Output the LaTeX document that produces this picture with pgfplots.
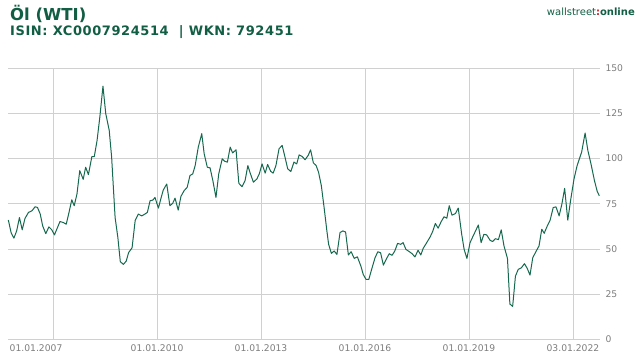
\documentclass[border=0pt]{standalone}
\usepackage{pgfplots}
\pgfplotsset{compat=1.18}
\usepackage{fontspec}
\setmainfont{DejaVu Sans}
\newfontfamily\isinfont[LetterSpace=4.5]{DejaVu Sans}
\definecolor{wogreen}{RGB}{18,94,68}
\definecolor{lineg}{RGB}{22,104,78}
\definecolor{gridc}{RGB}{208,208,208}
\definecolor{tickc}{RGB}{125,125,125}
\definecolor{wored}{RGB}{200,30,40}
\begin{document}
\begin{tikzpicture}
\useasboundingbox (0,0) rectangle (644pt,360pt);
\begin{axis}[
  at={(8pt,20.5pt)}, anchor=south west,
  scale only axis, width=592pt, height=271.5pt,
  xmin=2005.70, xmax=2022.78, ymin=0, ymax=150,
  axis line style={draw=none},
  major tick length=0pt,
  grid=major,
  major grid style={gridc, line width=0.7pt},
  xtick={2007,2010,2013,2016,2019,2022},
  xticklabels={\hspace*{-34pt}01.01.2007,01.01.2010,01.01.2013,01.01.2016,01.01.2019,03.01.2022},
  ytick={0,25,50,75,100,125,150},
  yticklabel pos=right,
  /pgf/number format/assume math mode=true,
  ticklabel style={font=\fontsize{9.2}{10}\selectfont, text=tickc},
  yticklabel style={anchor=west, xshift=2pt},
  xticklabel style={yshift=-1.5pt},
  clip=false,
]
\addplot[lineg, line width=1pt, line join=round] table {
2005.71 66
2005.79 59
2005.87 56
2005.95 60
2006.03 67.4
2006.11 60.6
2006.19 66.9
2006.29 70.2
2006.39 71.1
2006.48 73.3
2006.55 73
2006.63 69.3
2006.70 62.8
2006.79 58.5
2006.88 62.2
2006.96 60.7
2007.04 57.8
2007.12 61.5
2007.20 65.2
2007.30 64.6
2007.38 63.7
2007.46 70.2
2007.54 77.2
2007.61 73.9
2007.69 80.4
2007.77 93.3
2007.87 88.5
2007.94 95.2
2008.02 91.1
2008.12 101.1
2008.19 101.1
2008.27 110
2008.35 123
2008.44 140
2008.52 124.8
2008.62 115.6
2008.69 100.7
2008.79 67.4
2008.87 56.3
2008.94 43
2009.03 41.5
2009.11 43.3
2009.18 48
2009.28 50.7
2009.37 65.9
2009.46 69.3
2009.56 68.3
2009.65 69.3
2009.72 70.2
2009.80 76.7
2009.88 77
2009.94 78.5
2010.04 72.6
2010.12 78.5
2010.18 82.6
2010.28 85.9
2010.37 73.9
2010.45 75.2
2010.52 78.1
2010.61 71.5
2010.69 79.1
2010.78 82.2
2010.87 84.1
2010.95 90.6
2011.03 91.5
2011.10 96.1
2011.19 106.3
2011.29 113.7
2011.36 102.6
2011.45 95.2
2011.53 94.8
2011.61 87.8
2011.70 78.5
2011.78 91.5
2011.88 99.8
2011.95 98.5
2012.03 98
2012.11 106.3
2012.18 103.1
2012.28 104.8
2012.36 86.3
2012.45 84.4
2012.54 87.8
2012.62 96.1
2012.68 92.4
2012.78 86.9
2012.88 88.7
2012.95 91.5
2013.03 97
2013.12 91.9
2013.19 96.7
2013.28 92.9
2013.35 91.9
2013.43 96.1
2013.52 105.4
2013.61 107.2
2013.68 101.7
2013.77 94.3
2013.86 92.8
2013.95 98
2014.03 97
2014.10 102
2014.19 101.1
2014.27 99.3
2014.36 101.7
2014.43 104.8
2014.51 97.6
2014.59 96.1
2014.66 92.4
2014.74 85
2014.82 72.9
2014.90 60
2014.95 52.6
2015.03 47.6
2015.11 48.9
2015.19 47
2015.28 59.1
2015.36 60
2015.44 59.4
2015.52 46.7
2015.60 48.5
2015.69 44.8
2015.78 45.7
2015.88 40.6
2015.95 35.9
2016.03 33.2
2016.11 33.2
2016.19 38.7
2016.29 45.2
2016.37 48.5
2016.45 47.9
2016.53 41.1
2016.61 44.3
2016.70 47.4
2016.78 46.5
2016.86 48.9
2016.94 53.1
2017.03 52.6
2017.10 53.5
2017.18 49.8
2017.28 48.5
2017.36 47.4
2017.44 45.6
2017.53 49.3
2017.61 46.7
2017.68 50.4
2017.78 53.5
2017.88 56.7
2017.95 59.6
2018.03 64.1
2018.11 61.5
2018.20 65.2
2018.28 67.8
2018.36 67
2018.43 73.9
2018.51 68.7
2018.61 69.6
2018.69 72.6
2018.79 58.1
2018.86 49.8
2018.94 44.8
2019.03 53.5
2019.12 57.2
2019.19 60
2019.27 63.3
2019.35 53.5
2019.43 58.1
2019.51 57.8
2019.61 54.8
2019.68 54.1
2019.76 55.7
2019.85 55.2
2019.93 60.6
2020.01 51.7
2020.11 44.8
2020.18 19.6
2020.26 18.3
2020.34 35
2020.42 38.7
2020.51 39.6
2020.60 41.9
2020.68 39.3
2020.76 35.6
2020.84 45.2
2020.93 48.5
2021.02 51.7
2021.10 60.9
2021.17 58.7
2021.26 62.8
2021.34 65.9
2021.43 72.9
2021.51 73.3
2021.60 68.3
2021.68 74.8
2021.76 83.5
2021.85 65.9
2021.93 76.7
2022.03 88.7
2022.12 96.1
2022.25 103.5
2022.35 114.1
2022.43 104.4
2022.52 97
2022.62 87.8
2022.70 81.8
2022.76 79.4
};
\end{axis}
\node[anchor=base west, inner sep=0pt, text=wogreen, font=\fontsize{16.5}{18}\selectfont\bfseries] at (10pt,340pt) {Öl (WTI)};
\node[anchor=base west, inner sep=0pt, text=wogreen, font=\isinfont\fontsize{13}{15}\selectfont\bfseries] at (10pt,325pt) {ISIN: XC0007924514 \ | WKN: 792451};
\node[anchor=base east, inner sep=0pt, font=\fontsize{10}{12}\selectfont] at (635pt,345pt) {\textcolor{wogreen}{wallstreet}\textcolor{wored}{\textbf{:}}\textcolor{wogreen}{\textbf{online}}};
\end{tikzpicture}
\end{document}
